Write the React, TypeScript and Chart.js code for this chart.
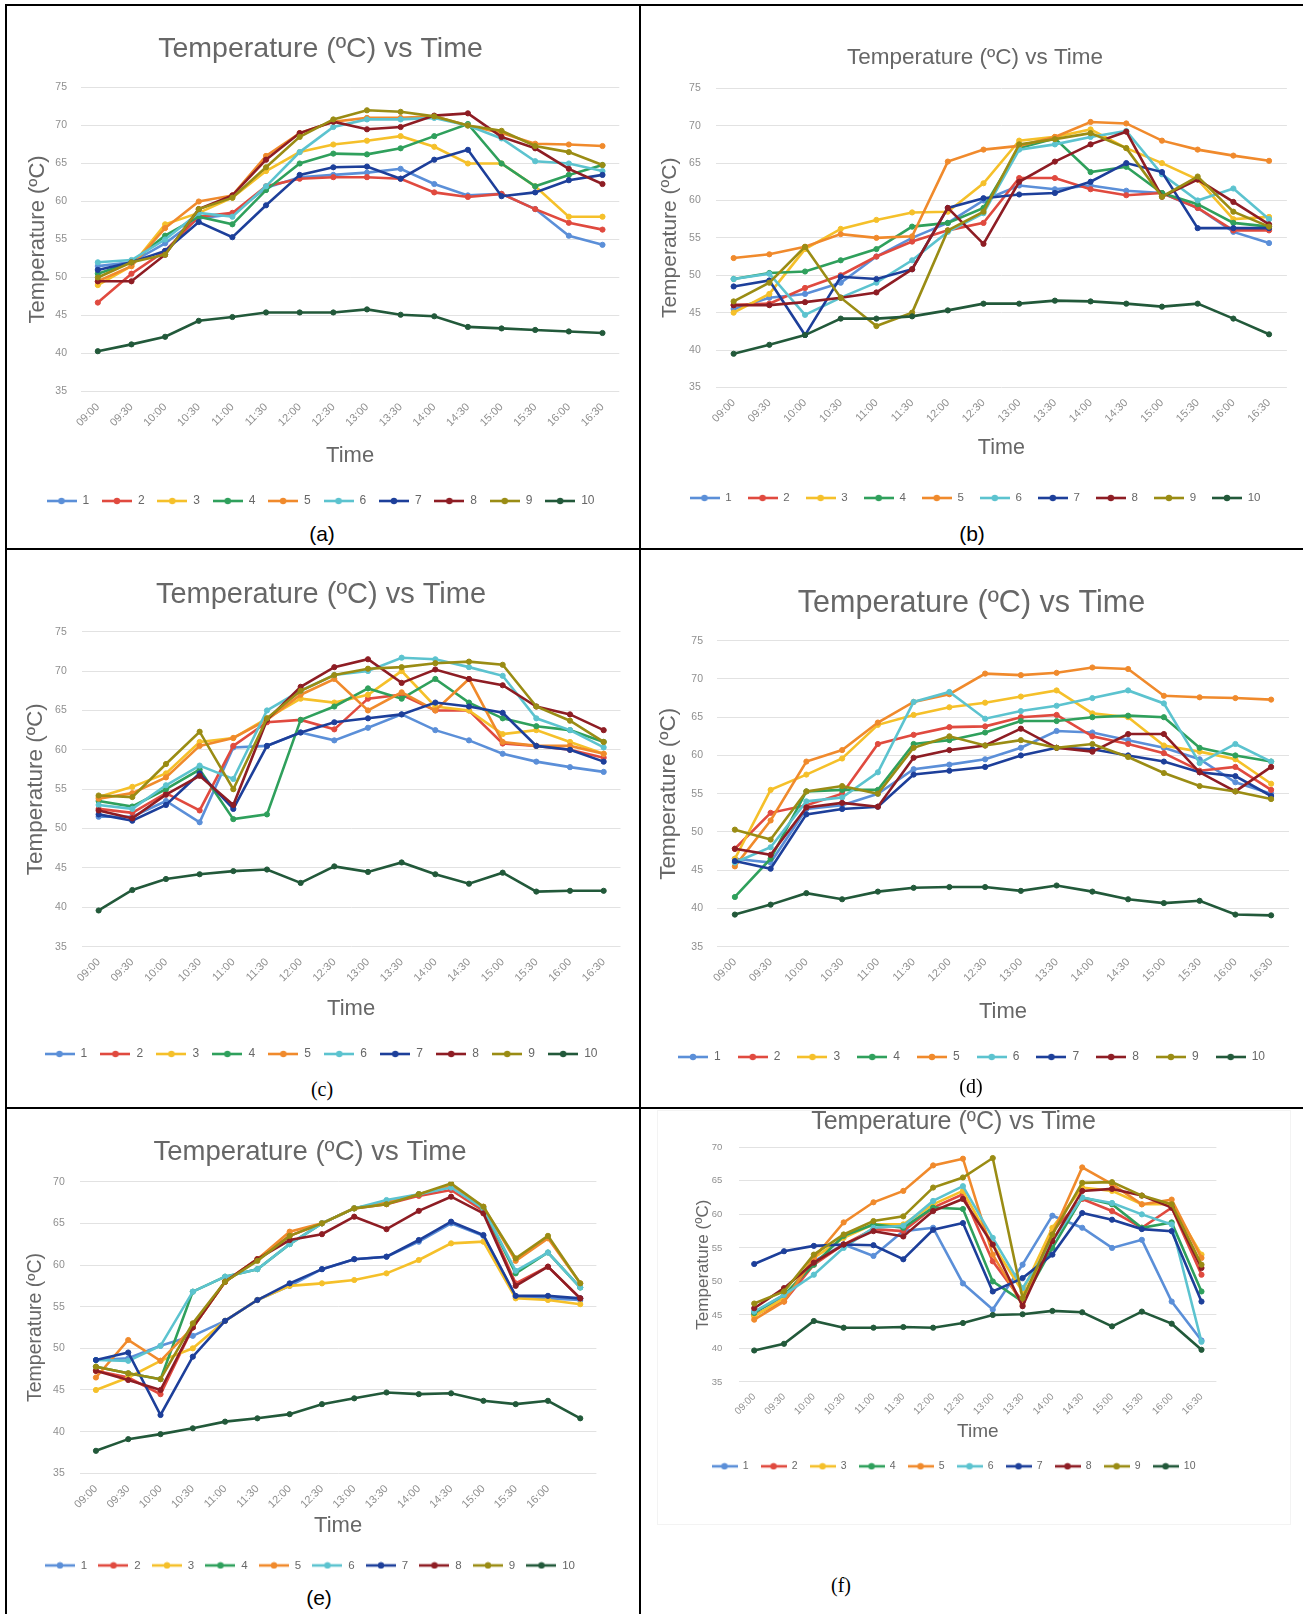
import React, { useEffect, useRef } from 'react';
import { Chart, registerables } from 'chart.js';

Chart.register(...registerables);

const FONT = '"Liberation Sans", Arial, Helvetica, sans-serif';
Chart.defaults.font.family = FONT;

// ---------- data ----------
const timeLabels = ['09:00', '09:30', '10:00', '10:30', '11:00', '11:30', '12:00', '12:30', '13:00', '13:30', '14:00', '14:30', '15:00', '15:30', '16:00', '16:30'];
const timeLabelsE = ['09:00', '09:30', '10:00', '10:30', '11:00', '11:30', '12:00', '12:30', '13:00', '13:30', '14:00', '14:30', '15:00', '15:30', '16:00', ''];
const seriesNames = ['1', '2', '3', '4', '5', '6', '7', '8', '9', '10'];
const seriesColors = ['#5b8fd8', '#e04a3f', '#f5c02a', '#2fa05c', '#f08a2c', '#5cc3cf', '#1d3f9a', '#8e1d24', '#9a8c14', '#22593a'];

const tempA = [
  [51.5, 52.0, 54.5, 57.8, 58.3, 61.8, 63.2, 63.5, 63.8, 64.3, 62.3, 60.8, 61.0, 59.0, 55.5, 54.3],
  [46.7, 50.5, 53.5, 58.0, 58.5, 62.0, 63.0, 63.2, 63.2, 63.0, 61.2, 60.6, 61.0, 59.0, 57.2, 56.3],
  [49.0, 51.5, 57.0, 58.5, 60.5, 64.0, 66.5, 67.5, 68.0, 68.6, 67.2, 65.0, 65.0, 62.0, 58.0, 58.0],
  [50.5, 52.0, 55.5, 58.0, 57.0, 61.5, 65.0, 66.3, 66.2, 67.0, 68.6, 70.2, 65.0, 62.0, 63.5, 64.8],
  [49.5, 51.5, 56.5, 60.0, 60.8, 66.0, 69.0, 70.5, 71.0, 71.0, 71.2, 70.0, 69.0, 67.6, 67.5, 67.3],
  [52.0, 52.3, 55.0, 58.5, 58.0, 62.0, 66.5, 69.8, 70.8, 70.8, 71.0, 70.0, 68.3, 65.3, 65.0, 64.0],
  [51.0, 52.0, 53.5, 57.3, 55.3, 59.5, 63.5, 64.5, 64.6, 63.0, 65.5, 66.8, 60.7, 61.2, 62.8, 63.5],
  [49.5, 49.5, 53.0, 59.0, 60.8, 65.5, 69.0, 70.5, 69.5, 69.8, 71.3, 71.6, 68.5, 67.0, 64.3, 62.3],
  [50.0, 52.0, 53.0, 59.0, 60.5, 64.5, 68.5, 70.8, 72.0, 71.8, 71.2, 70.0, 69.3, 67.3, 66.5, 64.8],
  [40.3, 41.2, 42.2, 44.3, 44.8, 45.4, 45.4, 45.4, 45.8, 45.1, 44.9, 43.5, 43.3, 43.1, 42.9, 42.7],
];

const tempB = [
  [45.5, 47.0, 47.5, 49.0, 52.5, 55.0, 57.0, 60.0, 62.0, 61.5, 62.0, 61.3, 61.0, 59.0, 55.8, 54.3],
  [46.0, 46.2, 48.3, 50.0, 52.5, 54.5, 56.0, 57.0, 63.0, 63.0, 61.5, 60.7, 61.0, 59.0, 56.0, 56.0],
  [45.0, 47.5, 53.5, 56.2, 57.4, 58.4, 58.5, 62.3, 68.0, 68.5, 69.5, 67.0, 65.0, 62.8, 57.5, 57.8],
  [49.5, 50.3, 50.5, 52.0, 53.5, 56.5, 57.0, 59.0, 67.0, 68.3, 63.8, 64.5, 61.0, 59.5, 57.0, 56.5],
  [52.3, 52.8, 53.8, 55.5, 55.0, 55.2, 65.2, 66.8, 67.3, 68.5, 70.5, 70.3, 68.0, 66.8, 66.0, 65.3],
  [49.5, 50.2, 44.7, 47.0, 49.0, 52.0, 55.8, 58.3, 66.8, 67.5, 68.5, 69.3, 63.5, 60.0, 61.6, 57.5],
  [48.5, 49.3, 42.0, 49.8, 49.5, 50.8, 59.0, 60.3, 60.8, 61.0, 62.5, 65.0, 63.8, 56.3, 56.3, 56.3],
  [46.0, 46.0, 46.4, 47.0, 47.7, 50.8, 59.0, 54.2, 62.5, 65.2, 67.5, 69.2, 60.5, 62.8, 59.8, 56.8],
  [46.5, 49.0, 53.8, 47.0, 43.2, 45.0, 56.0, 58.5, 67.5, 68.2, 69.0, 67.0, 60.5, 63.2, 58.5, 56.5],
  [39.5, 40.7, 42.0, 44.2, 44.2, 44.5, 45.3, 46.2, 46.2, 46.6, 46.5, 46.2, 45.8, 46.2, 44.2, 42.1],
];

const tempC = [
  [51.5, 51.5, 53.5, 50.8, 60.3, 60.5, 62.2, 61.2, 62.8, 64.5, 62.5, 61.2, 59.5, 58.5, 57.8, 57.2],
  [52.5, 52.0, 54.5, 52.3, 60.5, 63.5, 63.8, 62.6, 66.5, 67.0, 65.0, 65.0, 60.8, 60.5, 60.0, 59.0],
  [54.0, 55.3, 57.0, 61.0, 61.5, 64.0, 66.5, 66.0, 67.0, 70.0, 65.5, 65.0, 62.0, 62.5, 61.0, 59.5],
  [53.5, 52.8, 55.0, 57.5, 51.2, 51.8, 63.8, 65.5, 67.8, 66.5, 69.0, 66.0, 64.0, 63.0, 62.5, 61.0],
  [53.8, 54.5, 56.5, 60.5, 61.5, 63.8, 67.0, 69.0, 65.0, 67.3, 65.0, 69.0, 61.0, 60.5, 60.5, 59.5],
  [53.0, 52.5, 55.5, 58.0, 56.3, 65.0, 67.5, 69.5, 70.0, 71.7, 71.5, 70.5, 69.4, 64.0, 62.5, 60.3],
  [51.8, 51.0, 53.0, 57.0, 52.5, 60.5, 62.2, 63.5, 64.0, 64.5, 66.0, 65.5, 64.7, 60.5, 60.0, 58.5],
  [52.3, 51.3, 54.3, 56.7, 53.0, 63.8, 68.0, 70.5, 71.5, 68.5, 70.2, 69.0, 68.2, 65.5, 64.5, 62.5],
  [54.2, 54.0, 58.2, 62.3, 55.0, 64.0, 67.5, 69.5, 70.3, 70.5, 71.0, 71.2, 70.8, 65.5, 63.7, 61.0],
  [39.6, 42.2, 43.6, 44.2, 44.6, 44.8, 43.1, 45.2, 44.5, 45.7, 44.2, 43.0, 44.4, 42.0, 42.1, 42.1],
];

const tempD = [
  [46.5, 46.0, 53.0, 53.5, 55.0, 58.2, 58.8, 59.5, 61.0, 63.2, 63.0, 62.0, 61.0, 59.5, 56.5, 55.0],
  [47.8, 52.5, 53.5, 55.0, 61.5, 62.7, 63.7, 63.8, 65.0, 65.3, 62.5, 61.5, 60.3, 58.0, 58.5, 55.5],
  [46.5, 55.5, 57.5, 59.6, 64.0, 65.3, 66.3, 66.9, 67.7, 68.5, 65.5, 65.0, 61.3, 60.5, 59.5, 56.3],
  [41.5, 46.5, 55.3, 55.5, 55.5, 61.5, 62.0, 63.0, 64.5, 64.5, 65.0, 65.2, 65.0, 61.0, 60.0, 59.2],
  [45.5, 51.5, 59.2, 60.7, 64.3, 67.0, 68.0, 70.7, 70.5, 70.8, 71.5, 71.3, 67.8, 67.6, 67.5, 67.3],
  [46.0, 48.0, 54.0, 54.5, 57.8, 67.0, 68.3, 64.8, 65.8, 66.5, 67.5, 68.5, 66.8, 59.0, 61.5, 59.2],
  [46.2, 45.2, 52.3, 53.0, 53.3, 57.5, 58.0, 58.5, 60.0, 61.0, 60.8, 60.0, 59.2, 57.8, 57.3, 54.7],
  [47.8, 47.0, 53.2, 53.8, 53.3, 59.7, 60.7, 61.3, 63.5, 61.0, 60.5, 62.8, 62.8, 57.8, 55.3, 58.5],
  [50.3, 49.0, 55.3, 56.0, 55.0, 61.0, 62.5, 61.3, 62.0, 61.0, 61.5, 59.8, 57.7, 56.0, 55.3, 54.3],
  [39.2, 40.5, 42.0, 41.2, 42.2, 42.7, 42.8, 42.8, 42.3, 43.0, 42.2, 41.2, 40.7, 41.0, 39.2, 39.1],
];

const tempE = [
  [48.6, 48.8, 50.3, 51.5, 53.3, 55.8, 57.5, 59.5, 60.7, 61.0, 62.8, 65.0, 63.5, 56.2, 56.0, 55.8],
  [47.3, 46.5, 44.5, 52.5, 58.0, 60.7, 63.5, 65.0, 66.8, 67.3, 68.3, 69.0, 66.5, 57.8, 59.8, 56.0],
  [45.0, 46.5, 48.5, 50.0, 53.3, 55.8, 57.5, 57.8, 58.2, 59.0, 60.6, 62.6, 62.8, 56.0, 55.8, 55.3],
  [47.8, 47.0, 46.3, 56.8, 58.6, 59.5, 62.5, 65.0, 66.8, 67.5, 68.5, 69.5, 66.8, 59.0, 61.5, 57.3],
  [46.5, 51.0, 48.5, 52.5, 58.0, 60.7, 64.0, 65.0, 66.8, 67.5, 68.5, 69.5, 67.0, 60.5, 63.2, 57.8],
  [48.6, 48.5, 50.3, 56.8, 58.6, 59.5, 62.5, 65.0, 66.8, 67.8, 68.5, 69.3, 66.8, 59.3, 61.5, 57.3],
  [48.6, 49.5, 42.0, 49.0, 53.3, 55.8, 57.8, 59.5, 60.7, 61.0, 63.0, 65.2, 63.6, 56.3, 56.3, 56.0],
  [47.3, 46.2, 45.0, 52.5, 58.0, 60.7, 63.0, 63.7, 65.8, 64.3, 66.5, 68.2, 66.2, 57.5, 59.8, 56.0],
  [47.8, 47.0, 46.3, 53.0, 58.0, 60.5, 63.5, 65.0, 66.8, 67.3, 68.5, 69.8, 67.0, 60.8, 63.5, 57.8],
  [37.7, 39.1, 39.7, 40.4, 41.2, 41.6, 42.1, 43.3, 44.0, 44.7, 44.5, 44.6, 43.7, 43.3, 43.7, 41.6],
];

const tempF = [
  [45.5, 47.5, 53.0, 55.5, 53.8, 57.5, 58.0, 49.7, 45.8, 52.5, 59.8, 58.0, 55.0, 56.2, 47.0, 41.2],
  [45.0, 47.0, 52.5, 55.5, 57.8, 57.5, 61.0, 63.0, 53.0, 47.0, 57.5, 62.3, 60.5, 58.0, 61.0, 51.0],
  [44.8, 47.5, 53.5, 56.5, 58.5, 58.5, 61.5, 63.5, 55.5, 48.5, 58.0, 64.0, 63.5, 61.5, 61.5, 54.0],
  [45.3, 48.0, 52.5, 56.8, 58.5, 58.0, 61.0, 60.8, 50.0, 47.0, 55.0, 62.5, 61.5, 58.0, 58.8, 48.5],
  [44.3, 47.0, 53.5, 58.8, 61.8, 63.5, 67.3, 68.3, 54.0, 46.5, 57.0, 67.0, 64.5, 61.5, 62.2, 53.5],
  [45.5, 48.0, 51.0, 55.0, 58.0, 58.3, 62.0, 64.2, 56.5, 49.0, 56.0, 62.5, 61.7, 60.0, 58.5, 41.0],
  [52.6, 54.5, 55.3, 55.5, 55.4, 53.3, 57.7, 58.7, 48.5, 50.5, 54.0, 60.2, 59.2, 57.8, 57.5, 47.0],
  [46.0, 49.0, 52.8, 55.5, 57.5, 56.7, 60.5, 62.3, 55.5, 46.3, 56.0, 63.5, 63.8, 62.8, 61.0, 52.0],
  [46.7, 48.5, 54.0, 57.0, 59.0, 59.7, 64.0, 65.5, 68.4, 47.5, 57.0, 64.7, 64.8, 62.8, 61.5, 52.5],
  [39.7, 40.7, 44.1, 43.1, 43.1, 43.2, 43.1, 43.8, 45.0, 45.1, 45.6, 45.4, 43.3, 45.5, 43.7, 39.8],
];

// ---------- layout (page pixels) ----------
type Geo = {
  cx: number; cy: number;
  plotL: number; plotR: number; plotT: number; plotB: number;
  center: number;
  titleY: number; titleSize: number;
  yTitleX: number; yTitleSize: number; yTickGap: number;
  timeY: number; timeSize: number;
  legendY: number; legendSize: number; legendSpan: number; markerW: number;
  tickSize: number; xTickSize: number; yMin: number; yMax: number;
};

const geoA: Geo = { cx: 12, cy: 8, plotL: 81, plotR: 619.3, plotT: 87.5, plotB: 391.5, center: 320.5, titleY: 49.4, titleSize: 28.5, yTitleX: 37.5, yTitleSize: 22, yTickGap: 14, timeY: 456, timeSize: 22, legendY: 501, legendSize: 12, legendSpan: 548, markerW: 30, tickSize: 10.5, xTickSize: 11, yMin: 35, yMax: 75 };
const geoB: Geo = { cx: 650, cy: 8, plotL: 715.8, plotR: 1286.9, plotT: 88.3, plotB: 387.4, center: 975, titleY: 57.6, titleSize: 22.5, yTitleX: 670, yTitleSize: 21, yTickGap: 15, timeY: 447.7, timeSize: 21.5, legendY: 498, legendSize: 11.5, legendSpan: 571, markerW: 30, tickSize: 10.5, xTickSize: 11, yMin: 35, yMax: 75 };
const geoC: Geo = { cx: 12, cy: 552, plotL: 81.8, plotR: 620.5, plotT: 631.7, plotB: 946.7, center: 321, titleY: 595, titleSize: 29, yTitleX: 36, yTitleSize: 22.5, yTickGap: 15, timeY: 1008.6, timeSize: 22, legendY: 1054, legendSize: 12, legendSpan: 553, markerW: 30, tickSize: 10.5, xTickSize: 11, yMin: 35, yMax: 75 };
const geoD: Geo = { cx: 650, cy: 552, plotL: 717, plotR: 1289, plotT: 640.7, plotB: 946.7, center: 971.5, titleY: 604, titleSize: 30.5, yTitleX: 669, yTitleSize: 22.5, yTickGap: 14, timeY: 1011.7, timeSize: 22, legendY: 1057, legendSize: 12, legendSpan: 587, markerW: 30, tickSize: 10.5, xTickSize: 11, yMin: 35, yMax: 75 };
const geoE: Geo = { cx: 12, cy: 1111, plotL: 79.8, plotR: 596.4, plotT: 1181.7, plotB: 1473.3, center: 310, titleY: 1152.7, titleSize: 27.5, yTitleX: 36, yTitleSize: 19.5, yTickGap: 15, timeY: 1526.3, timeSize: 22, legendY: 1565.4, legendSize: 11.5, legendSpan: 530, markerW: 30, tickSize: 10.5, xTickSize: 11, yMin: 35, yMax: 70 };
const geoF: Geo = { cx: 680, cy: 1110, plotL: 739.3, plotR: 1216.4, plotT: 1147.3, plotB: 1382, center: 953.5, titleY: 1122, titleSize: 25, yTitleX: 703.4, yTitleSize: 17, yTickGap: 17, timeY: 1431.3, timeSize: 19, legendY: 1466.3, legendSize: 10.5, legendSpan: 484, markerW: 26, tickSize: 9.5, xTickSize: 10, yMin: 35, yMax: 70 };

const TEXT = '#676767';
const TICK = '#8f8f8f';
const GRID = '#e2e2e2';

function makeMarker(color: string, w: number): HTMLCanvasElement {
  const c = document.createElement('canvas');
  c.width = w;
  c.height = 8;
  const g = c.getContext('2d')!;
  g.strokeStyle = color;
  g.lineWidth = 2.6;
  g.beginPath();
  g.moveTo(0, 4);
  g.lineTo(w, 4);
  g.stroke();
  g.fillStyle = color;
  g.beginPath();
  g.arc(w / 2, 4, 3.2, 0, Math.PI * 2);
  g.fill();
  return c;
}

function TempChart({ geo, values, labels }: { geo: Geo; values: number[][]; labels: string[] }) {
  const ref = useRef<HTMLCanvasElement | null>(null);
  const extraR = 2 * geo.center - geo.cx - geo.plotR;
  const cw = Math.ceil(geo.plotR + extraR + 2 - geo.cx);
  const ch = Math.ceil(geo.legendY + geo.legendSize / 2 + 13 - geo.cy);

  useEffect(() => {
    const canvas = ref.current;
    if (!canvas) return;
    const padRight = cw - (geo.plotR + extraR - geo.cx);
    const padBottom = geo.cy + ch - (geo.legendY + geo.legendSize / 2 + 10);
    const m = document.createElement('canvas').getContext('2d')!;
    m.font = `${geo.legendSize}px ${FONT}`;
    let sum = 0;
    seriesNames.forEach((n) => {
      sum += geo.markerW + geo.legendSize / 2 + m.measureText(n).width;
    });
    const P = Math.max(2, (geo.legendSpan - sum) / (seriesNames.length - 1));
    const legendTop = geo.legendY - P - geo.legendSize / 2;
    const markers = seriesColors.map((c) => makeMarker(c, geo.markerW));
    const titlePadTop = geo.titleY - geo.cy - geo.titleSize / 2;
    const titlePadBottom = geo.plotT - geo.cy - titlePadTop - geo.titleSize;

    const chart = new Chart(canvas, {
      type: 'line',
      data: {
        labels,
        datasets: values.map((v, i) => ({
          label: seriesNames[i],
          data: v,
          borderColor: seriesColors[i],
          backgroundColor: seriesColors[i],
          pointBackgroundColor: seriesColors[i],
          pointBorderColor: seriesColors[i],
          borderWidth: 2.6,
          pointRadius: 2.6,
          pointBorderWidth: 1,
          pointHoverRadius: 2.6,
          tension: 0,
          fill: false,
          order: values.length - i,
        })),
      },
      options: {
        responsive: false,
        animation: false,
        events: [],
        layout: { padding: { left: 0, top: 0, right: padRight, bottom: padBottom } },
        plugins: {
          tooltip: { enabled: false },
          title: {
            display: true,
            text: 'Temperature (ºC) vs Time',
            color: TEXT,
            font: { size: geo.titleSize, family: FONT, weight: 'normal', lineHeight: 1 },
            padding: { top: titlePadTop, bottom: titlePadBottom },
          },
          legend: {
            display: true,
            position: 'bottom',
            labels: {
              usePointStyle: true,
              pointStyleWidth: geo.markerW,
              padding: P,
              color: TEXT,
              font: { size: geo.legendSize, family: FONT },
              generateLabels: () =>
                seriesNames.map((n, i) => ({
                  text: n,
                  pointStyle: markers[i],
                  fillStyle: seriesColors[i],
                  strokeStyle: seriesColors[i],
                  lineWidth: 0,
                  hidden: false,
                  datasetIndex: i,
                  fontColor: TEXT,
                })),
            },
          },
        },
        scales: {
          x: {
            type: 'category',
            offset: true,
            grid: { display: false, drawTicks: false },
            border: { display: false },
            ticks: {
              autoSkip: false,
              minRotation: 45,
              maxRotation: 45,
              padding: 9,
              color: TICK,
              font: { size: geo.xTickSize, family: FONT },
            },
            title: {
              display: true,
              text: 'Time',
              color: TEXT,
              font: { size: geo.timeSize, family: FONT, lineHeight: 1 },
              padding: { top: 0, bottom: Math.max(0, legendTop - geo.timeY - geo.timeSize / 2) },
            },
            afterFit: (s: any) => {
              s.height = legendTop - geo.plotB;
            },
          },
          y: {
            type: 'linear',
            position: 'left',
            min: geo.yMin,
            max: geo.yMax,
            grid: { color: GRID, lineWidth: 1, drawTicks: false },
            border: { display: false },
            ticks: {
              stepSize: 5,
              padding: geo.yTickGap,
              color: TICK,
              font: { size: geo.tickSize, family: FONT },
            },
            title: {
              display: true,
              text: 'Temperature (ºC)',
              color: TEXT,
              font: { size: geo.yTitleSize, family: FONT, lineHeight: 1 },
              padding: { top: geo.yTitleX - geo.cx - geo.yTitleSize / 2, bottom: 0 },
            },
            afterFit: (s: any) => {
              s.width = geo.plotL - geo.cx;
            },
          },
          yR: {
            type: 'linear',
            position: 'right',
            display: true,
            grid: { display: false, drawTicks: false },
            border: { display: false },
            ticks: { display: false },
            afterFit: (s: any) => {
              s.width = extraR;
            },
          },
        },
      } as any,
    });
    return () => chart.destroy();
  }, []);

  return (
    <canvas
      ref={ref}
      width={cw}
      height={ch}
      style={{ position: 'absolute', left: geo.cx, top: geo.cy, width: cw, height: ch }}
    />
  );
}

const line = (left: number, top: number, width: number, height: number) => (
  <div style={{ position: 'absolute', left, top, width, height, background: '#000' }} />
);

function Caption({ x, y, text, serif }: { x: number; y: number; text: string; serif?: boolean }) {
  return (
    <div
      style={{
        position: 'absolute',
        left: x - 50,
        top: y - 13,
        width: 100,
        height: 26,
        lineHeight: '26px',
        textAlign: 'center',
        fontFamily: serif ? '"Liberation Serif", "Times New Roman", serif' : '"Liberation Sans", Arial, sans-serif',
        fontSize: serif ? 20 : 21,
        color: '#000',
      }}
    >
      {text}
    </div>
  );
}

export default function App() {
  return (
    <div style={{ position: 'absolute', left: 0, top: 0, width: 1303, height: 1614, background: '#fff', overflow: 'hidden' }}>
      {line(5, 4, 1298, 2)}
      {line(5, 548, 1298, 2)}
      {line(5, 1107, 1298, 2)}
      {line(5, 4, 2, 1610)}
      {line(639, 4, 2, 1610)}
      <div style={{ position: 'absolute', left: 657, top: 1110, width: 634, height: 415, border: '1px solid #f3f3f3', boxSizing: 'border-box' }} />
      <TempChart geo={geoA} values={tempA} labels={timeLabels} />
      <TempChart geo={geoB} values={tempB} labels={timeLabels} />
      <TempChart geo={geoC} values={tempC} labels={timeLabels} />
      <TempChart geo={geoD} values={tempD} labels={timeLabels} />
      <TempChart geo={geoE} values={tempE} labels={timeLabelsE} />
      <TempChart geo={geoF} values={tempF} labels={timeLabels} />
      <Caption x={322} y={534} text="(a)" />
      <Caption x={972} y={534} text="(b)" />
      <Caption x={322} y={1089} text="(c)" serif />
      <Caption x={971} y={1086} text="(d)" serif />
      <Caption x={319} y={1598} text="(e)" />
      <Caption x={841} y={1585} text="(f)" serif />
    </div>
  );
}
